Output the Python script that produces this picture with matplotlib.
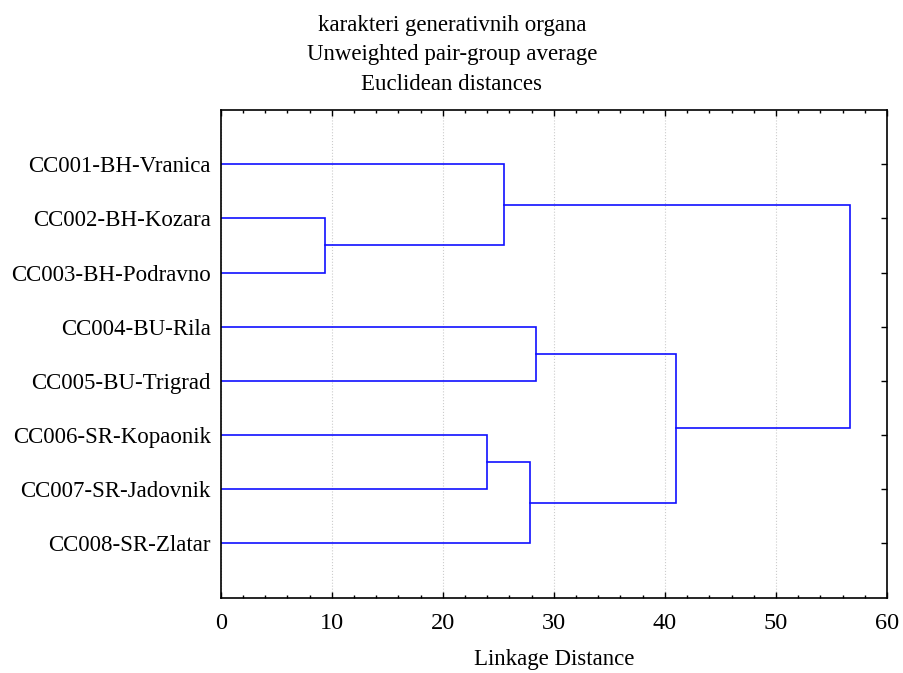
import matplotlib
matplotlib.use("Agg")
import matplotlib.pyplot as plt
from matplotlib.ticker import MultipleLocator

labels = ["CC001-BH-Vranica", "CC002-BH-Kozara", "CC003-BH-Podravno",
          "CC004-BU-Rila", "CC005-BU-Trigrad", "CC006-SR-Kopaonik",
          "CC007-SR-Jadovnik", "CC008-SR-Zlatar"]
# merges: (child_a, child_b, linkage distance); new cluster ids start at 8
merge_a = [1, 5, 0, 9, 3, 12, 10]
merge_b = [2, 6, 8, 7, 4, 11, 13]
merge_dist = [9.42, 23.97, 25.48, 27.85, 28.42, 40.97, 56.64]
title_lines = ["karakteri generativnih organa", "Unweighted pair-group average", "Euclidean distances"]
xlabel = "Linkage Distance"

plt.rcParams['font.family'] = ['Liberation Serif', 'DejaVu Serif']

fig = plt.figure(figsize=(9.04, 6.73), dpi=100)
ax = fig.add_axes([0.2441, 0.1119, 0.9812 - 0.2441, 0.8366 - 0.1119])

n = len(labels)
pos = {i: (0.0, float(i + 1)) for i in range(n)}
for k, (a, b, d) in enumerate(zip(merge_a, merge_b, merge_dist)):
    xa, ya = pos[a]
    xb, yb = pos[b]
    ax.plot([xa, d, d, xb], [ya, ya, yb, yb], color='#1010ff', lw=1.2, solid_joinstyle='miter')
    pos[n + k] = (d, (ya + yb) / 2)

ax.set_xlim(0, 60)
ax.set_ylim(9, 0)
ax.set_yticks(range(1, n + 1))
ax.set_yticklabels(labels, fontsize=16.5)
ax.xaxis.set_major_locator(MultipleLocator(10))
ax.xaxis.set_minor_locator(MultipleLocator(2))
ax.tick_params(axis='x', which='major', direction='in', top=True, bottom=True, length=4, width=1, labelsize=17.5, pad=11)
ax.tick_params(axis='x', which='minor', direction='in', top=True, bottom=True, length=2.5, width=1)
ax.tick_params(axis='y', which='major', direction='in', left=False, right=True, length=4, width=1, pad=7)
ax.grid(axis='x', which='major', linestyle=':', color='#cccccc', lw=0.8)
ax.set_axisbelow(True)
for s in ax.spines.values():
    s.set_linewidth(1.2)
ax.set_xlabel(xlabel, fontsize=16.5, labelpad=10.5)

fig.text(0.5, 1 - 15 / 673, "\n".join(title_lines), ha='center', va='top', fontsize=16.5, linespacing=1.52)

fig.savefig("out.png", dpi=100)
